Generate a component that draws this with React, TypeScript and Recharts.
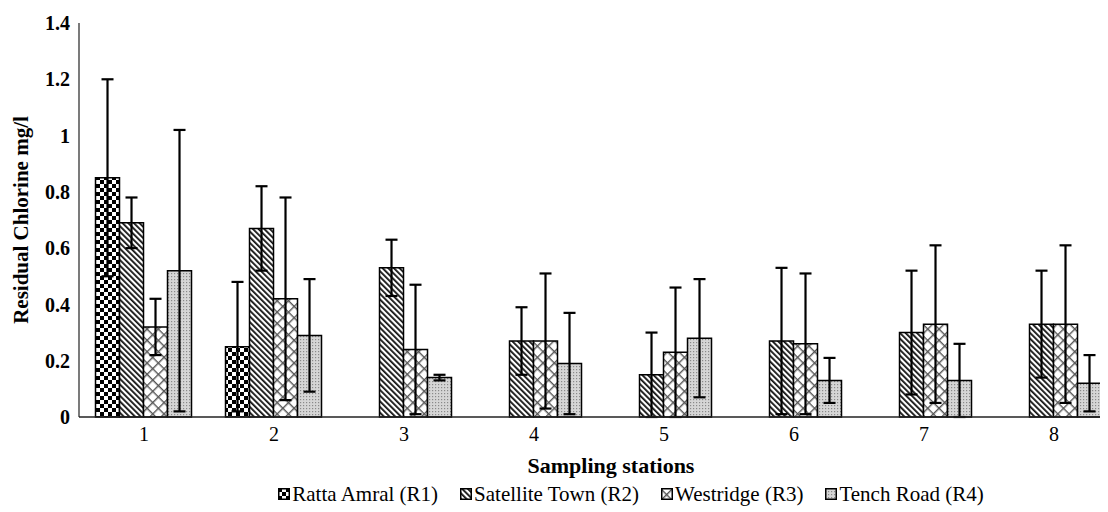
import { Bar, BarChart, ErrorBar, Label, XAxis, YAxis } from 'recharts';

// Residual chlorine per sampling station, four reservoirs, mean ± SD.
const stations = ['1', '2', '3', '4', '5', '6', '7', '8'];
const r1 = [0.85, 0.25, null, null, null, null, null, null];
const r1Err = [0.35, 0.23, null, null, null, null, null, null];
const r2 = [0.69, 0.67, 0.53, 0.27, 0.15, 0.27, 0.3, 0.33];
const r2Err = [0.09, 0.15, 0.1, 0.12, 0.15, 0.26, 0.22, 0.19];
const r3 = [0.32, 0.42, 0.24, 0.27, 0.23, 0.26, 0.33, 0.33];
const r3Err = [0.1, 0.36, 0.23, 0.24, 0.23, 0.25, 0.28, 0.28];
const r4 = [0.52, 0.29, 0.14, 0.19, 0.28, 0.13, 0.13, 0.12];
const r4Err = [0.5, 0.2, 0.01, 0.18, 0.21, 0.08, 0.13, 0.1];
const yTicks = [0, 0.2, 0.4, 0.6, 0.8, 1, 1.2, 1.4];
const seriesNames = ['Ratta Amral (R1)', 'Satellite Town (R2)', 'Westridge (R3)', 'Tench Road (R4)'];

const data = stations.map((s, i) => ({
  station: s,
  r1: r1[i],
  r1e: r1Err[i],
  r2: r2[i],
  r2e: r2Err[i],
  r3: r3[i],
  r3e: r3Err[i],
  r4: r4[i],
  r4e: r4Err[i],
}));

const FONT = '"Liberation Serif", "Times New Roman", serif';
const fills = ['url(#patR1)', 'url(#patR2)', 'url(#patR3)', 'url(#patR4)'];
const keys = ['r1', 'r2', 'r3', 'r4'];

function Patterns() {
  return (
    <defs>
      <pattern id="patR1" width="8" height="8" patternUnits="userSpaceOnUse">
        <rect width="8" height="8" fill="#fff" />
        <rect x="0" y="0" width="4" height="4" fill="#000" />
        <rect x="4" y="4" width="4" height="4" fill="#000" />
      </pattern>
      <pattern id="patR2" width="4" height="4" patternUnits="userSpaceOnUse" patternTransform="rotate(-45)">
        <rect width="4" height="4" fill="#fff" />
        <rect x="0" y="0" width="1.8" height="4" fill="#111" />
      </pattern>
      <pattern id="patR3" width="8" height="8" patternUnits="userSpaceOnUse" patternTransform="rotate(45)">
        <rect width="8" height="8" fill="#fff" />
        <rect x="0" y="0" width="1.4" height="8" fill="#555" />
        <rect x="0" y="0" width="8" height="1.4" fill="#555" />
      </pattern>
      <pattern id="patR4" width="3" height="3" patternUnits="userSpaceOnUse">
        <rect width="3" height="3" fill="#d6d6d6" />
        <rect x="0" y="0" width="1.2" height="1.2" fill="#8a8a8a" />
      </pattern>
    </defs>
  );
}

function YTitle({ viewBox }: any) {
  const cx = 21;
  const cy = viewBox.y + viewBox.height / 2;
  return (
    <text
      x={cx}
      y={cy}
      transform={`rotate(-90 ${cx} ${cy})`}
      textAnchor="middle"
      dominantBaseline="central"
      fontFamily={FONT}
      fontWeight={700}
      fontSize={21}
      fill="#000"
    >
      Residual Chlorine mg/l
    </text>
  );
}

function XTitle({ viewBox }: any) {
  const cx = viewBox.x + viewBox.width / 2 + 12;
  return (
    <text
      x={cx}
      y={465}
      textAnchor="middle"
      dominantBaseline="central"
      fontFamily={FONT}
      fontWeight={700}
      fontSize={22}
      fill="#000"
    >
      Sampling stations
    </text>
  );
}

export default function App() {
  return (
    <div
      style={{
        position: 'relative',
        marginLeft: -8,
        marginTop: -8,
        width: 1108,
        height: 512,
        overflow: 'hidden',
        background: '#fff',
      }}
    >
      <BarChart
        width={1120}
        height={512}
        data={data}
        margin={{ top: 23, right: 1, left: 0, bottom: 35 }}
        barCategoryGap="12.7%"
        barGap={0}
      >
        <Patterns />
        <XAxis
          dataKey="station"
          height={60}
          tickLine={false}
          tickSize={0}
          tickMargin={10}
          axisLine={{ stroke: '#222', strokeWidth: 1.5 }}
          tick={{ fontFamily: FONT, fontSize: 20, fill: '#000' }}
        >
          <Label content={XTitle} />
        </XAxis>
        <YAxis
          width={79}
          domain={[0, 1.4]}
          ticks={yTicks}
          interval={0}
          tickLine={false}
          tickSize={0}
          tickMargin={9}
          axisLine={{ stroke: '#222', strokeWidth: 1.2 }}
          tick={{ fontFamily: FONT, fontSize: 20, fontWeight: 700, fill: '#000' }}
        >
          <Label content={YTitle} />
        </YAxis>
        {keys.map((k, i) => (
          <Bar
            key={k}
            dataKey={k}
            name={seriesNames[i]}
            fill={fills[i]}
            stroke="#000"
            strokeWidth={1.5}
            isAnimationActive={false}
          >
            <ErrorBar dataKey={`${k}e`} width={6} stroke="#000" strokeWidth={2.2} direction="y" />
          </Bar>
        ))}
      </BarChart>
      <div
        style={{
          position: 'absolute',
          top: 482,
          left: 0,
          width: 1262,
          display: 'flex',
          justifyContent: 'center',
          gap: 22,
          fontFamily: FONT,
          fontSize: 21,
          color: '#000',
          lineHeight: '24px',
        }}
      >
        {seriesNames.map((n, i) => (
          <div key={n} style={{ display: 'flex', alignItems: 'center' }}>
            <svg width={12} height={12} style={{ marginRight: 2 }}>
              <rect x={0.75} y={0.75} width={10.5} height={10.5} fill={fills[i]} stroke="#000" strokeWidth={1.5} />
            </svg>
            <span>{n}</span>
          </div>
        ))}
      </div>
    </div>
  );
}
